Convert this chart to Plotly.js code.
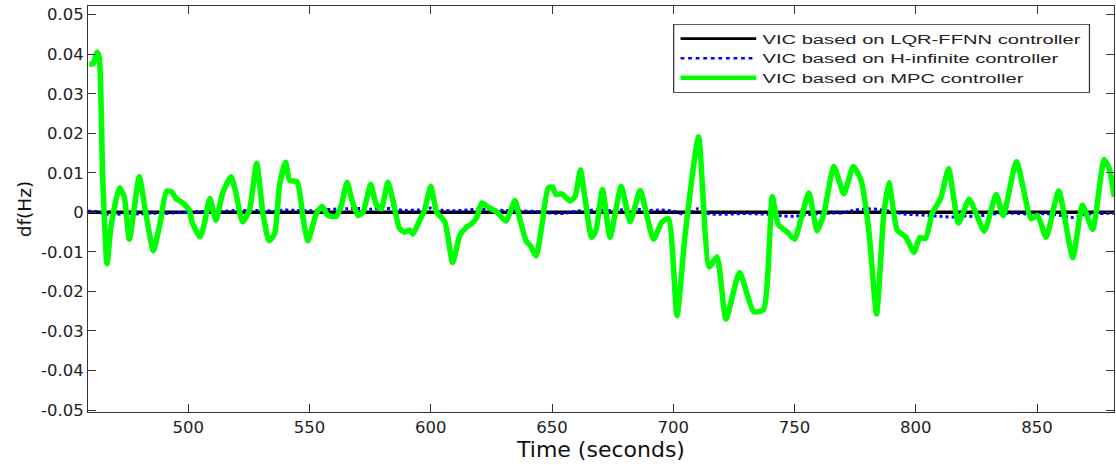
<!DOCTYPE html>
<html>
<head>
<meta charset="utf-8">
<script src="https://cdn.plot.ly/plotly-3.0.1.min.js"></script>
<style>html,body{margin:0;padding:0;background:#fff;}#chart{width:1116px;height:465px;}</style>
</head>
<body>
<div id="chart"></div>
<script>
// LQR-FFNN (black) — flat at zero
const lqrT = [458.6, 881.8];
const lqrV = [0, 0];

// H-infinite (blue dotted)
const hinfT = [458.6, 462, 466, 470, 475, 480, 485, 490, 495, 500, 505, 510, 515, 520, 525, 530, 535, 540, 545, 550, 555, 560, 565, 570, 575, 580, 585, 590, 595, 600, 605, 610, 615, 620, 625, 630, 635, 640, 645, 650, 655, 660, 665, 670, 675, 680, 685, 690, 695, 700, 705, 710, 715, 720, 725, 730, 735, 740, 745, 750, 755, 760, 765, 770, 775, 780, 785, 790, 795, 800, 805, 810, 815, 820, 825, 830, 835, 840, 845, 850, 855, 860, 865, 870, 875, 881.8];
const hinfV = [0.0003, 0.0002, -0.0004, -0.0005, -0.0003, -0.0004, -0.0002, -0.0003, -0.0001, 0.0000, 0.0002, 0.0001, 0.0003, 0.0005, 0.0004, 0.0005, 0.0003, 0.0006, 0.0005, 0.0004, 0.0006, 0.0008, 0.0009, 0.0010, 0.0008, 0.0012, 0.0007, 0.0005, 0.0006, 0.0011, 0.0005, 0.0004, 0.0006, 0.0008, 0.0006, 0.0005, 0.0004, 0.0003, 0.0002, -0.0002, -0.0003, 0.0003, 0.0005, 0.0006, 0.0004, 0.0007, 0.0008, 0.0005, 0.0006, 0.0003, -0.0006, 0.0009, -0.0004, -0.0005, -0.0004, -0.0003, -0.0004, -0.0005, -0.0009, -0.0010, -0.0006, -0.0003, -0.0002, -0.0001, 0.0006, 0.0009, 0.0007, 0.0002, -0.0004, -0.0006, -0.0008, -0.0010, -0.0012, -0.0009, -0.0011, -0.0005, -0.0003, -0.0002, -0.0004, -0.0003, -0.0004, -0.0008, -0.0013, -0.0005, -0.0003, -0.0002];

// MPC (green)
const mpcT = [459.2, 460.8, 462.4, 463.3, 464.7, 466.5, 468.1, 471.6, 473.6, 475.7, 479.8, 482.3, 485.6, 488.3, 491.1, 493.3, 494.9, 497.7, 500.4, 501.8, 504.9, 506.6, 508.9, 511.4, 514.2, 517.6, 519.4, 522.4, 525.2, 528.2, 530.8, 533.3, 535.6, 537.7, 540.1, 541.8, 544.9, 547.3, 549.3, 552.8, 555.2, 557.6, 561.0, 563.1, 565.5, 567.5, 570.0, 572.1, 575.2, 577.5, 579.6, 582.3, 584.4, 587.1, 589.2, 591.3, 592.6, 595.4, 597.4, 600.0, 602.4, 605.8, 609.0, 612.0, 614.8, 616.8, 618.9, 621.0, 623.7, 627.2, 631.0, 634.7, 636.8, 639.5, 640.9, 643.4, 645.7, 648.4, 650.2, 651.6, 654.0, 657.4, 659.4, 661.7, 663.5, 666.3, 668.1, 670.8, 673.9, 678.5, 682.2, 686.3, 691.8, 695.3, 698.0, 701.5, 704.9, 710.4, 714.8, 718.0, 721.7, 727.3, 733.1, 737.2, 740.8, 743.3, 747.0, 750.0, 752.5, 755.9, 759.3, 762.1, 766.2, 770.3, 774.2, 777.4, 780.6, 783.8, 786.8, 788.9, 792.3, 795.8, 799.2, 801.6, 804.0, 806.7, 810.2, 813.5, 817.6, 822.0, 828.2, 833.1, 836.0, 841.5, 847.5, 850.2, 853.7, 858.9, 864.7, 868.7, 872.9, 877.6, 879.7, 881.8];
const mpcV = [0.0376, 0.0376, 0.0405, 0.0392, 0.0089, -0.0130, -0.0037, 0.0062, 0.0039, -0.0068, 0.0090, 0.0005, -0.0097, -0.0029, 0.0054, 0.0051, 0.0035, 0.0024, 0.0005, -0.0029, -0.0062, -0.0029, 0.0035, -0.0020, 0.0049, 0.0090, 0.0056, -0.0024, 0.0005, 0.0124, -0.0003, -0.0072, -0.0054, 0.0072, 0.0127, 0.0081, 0.0077, -0.0012, -0.0072, -0.0003, 0.0015, -0.0008, -0.0010, 0.0018, 0.0076, 0.0030, -0.0008, 0.0001, 0.0071, 0.0020, 0.0009, 0.0076, 0.0030, -0.0041, -0.0050, -0.0045, -0.0055, -0.0020, 0.0005, 0.0066, 0.0001, -0.0024, -0.0127, -0.0058, -0.0037, -0.0029, -0.0013, 0.0024, 0.0013, 0.0001, -0.0022, 0.0030, -0.0020, -0.0075, -0.0083, -0.0110, -0.0037, 0.0062, 0.0064, 0.0045, 0.0047, 0.0029, 0.0039, 0.0107, 0.0039, -0.0063, -0.0045, 0.0058, -0.0063, 0.0066, -0.0024, 0.0055, -0.0068, -0.0024, -0.0016, -0.0261, -0.0054, 0.0191, -0.0138, -0.0113, -0.0270, -0.0152, -0.0251, -0.0246, 0.0040, -0.0031, -0.0050, -0.0068, -0.0020, 0.0049, -0.0047, -0.0003, 0.0116, 0.0047, 0.0116, 0.0081, -0.0045, -0.0257, -0.0003, 0.0075, -0.0045, -0.0062, -0.0101, -0.0064, -0.0066, -0.0003, 0.0035, 0.0110, -0.0027, 0.0033, -0.0047, 0.0045, -0.0008, 0.0128, -0.0016, -0.0008, -0.0063, 0.0054, -0.0114, 0.0018, -0.0043, 0.0133, 0.0112, 0.0039];

const seriesNames = ['VIC based on LQR-FFNN controller', 'VIC based on H-infinite controller', 'VIC based on MPC controller'];
const xTickVals = [500, 550, 600, 650, 700, 750, 800, 850];
const yTickVals = [-0.05, -0.04, -0.03, -0.02, -0.01, 0, 0.01, 0.02, 0.03, 0.04, 0.05];
const yTickText = ['-0.05', '-0.04', '-0.03', '-0.02', '-0.01', '0', '0.01', '0.02', '0.03', '0.04', '0.05'];

const FONT = 'Liberation Sans, Arial, sans-serif';
const WIDE = 'DejaVu Sans, Verdana, sans-serif';

const traces = [
  {x: lqrT, y: lqrV, name: seriesNames[0], mode: 'lines', line: {color: '#000000', width: 3.5}},
  {x: hinfT, y: hinfV, name: seriesNames[1], mode: 'lines', line: {color: '#0000ff', width: 3, dash: 'dot', shape: 'spline', smoothing: 0.6}},
  {x: mpcT, y: mpcV, name: seriesNames[2], mode: 'lines', line: {color: '#00ff00', width: 5.5, shape: 'spline', smoothing: 0.55}}
];

const axisCommon = {
  showgrid: false, zeroline: false, showline: true, linecolor: '#333333', linewidth: 1,
  mirror: 'ticks', ticks: 'inside', ticklen: 8, tickcolor: '#333333', tickwidth: 1,
  tickfont: {family: WIDE, size: 16.5, color: '#222222'}
};

const layout = {
  width: 1116, height: 465,
  margin: {l: 88, r: 2, t: 6, b: 53},
  paper_bgcolor: '#ffffff', plot_bgcolor: '#ffffff',
  showlegend: true,
  legend: {
    x: 0.5702, xanchor: 'left', y: 0.9557, yanchor: 'top',
    bgcolor: '#ffffff', bordercolor: '#333333', borderwidth: 1,
    font: {family: FONT, size: 16, color: '#222222'},
    itemwidth: 60, tracegroupgap: 0
  },
  xaxis: Object.assign({}, axisCommon, {
    range: [458.65, 881.7], tickvals: xTickVals, ticktext: xTickVals.map(String),
    title: {text: 'Time (seconds)', font: {family: WIDE, size: 22, color: '#111111'}, standoff: 2}
  }),
  yaxis: Object.assign({}, axisCommon, {
    range: [-0.0505, 0.0522], tickvals: yTickVals, ticktext: yTickText,
    title: {text: 'df(Hz)', font: {family: WIDE, size: 18.5, color: '#111111'}, standoff: 4}
  })
};

Plotly.newPlot('chart', traces, layout, {displayModeBar: false, staticPlot: true}).then(function (gd) {
  // the reference legend is stretched horizontally and packed tighter vertically
  const lg = gd.querySelector('.legend');
  if (lg) {
    const t = lg.getAttribute('transform') || '';
    lg.setAttribute('transform', t + ' scale(1.26,0.82)');
  }
});
</script>
</body>
</html>
